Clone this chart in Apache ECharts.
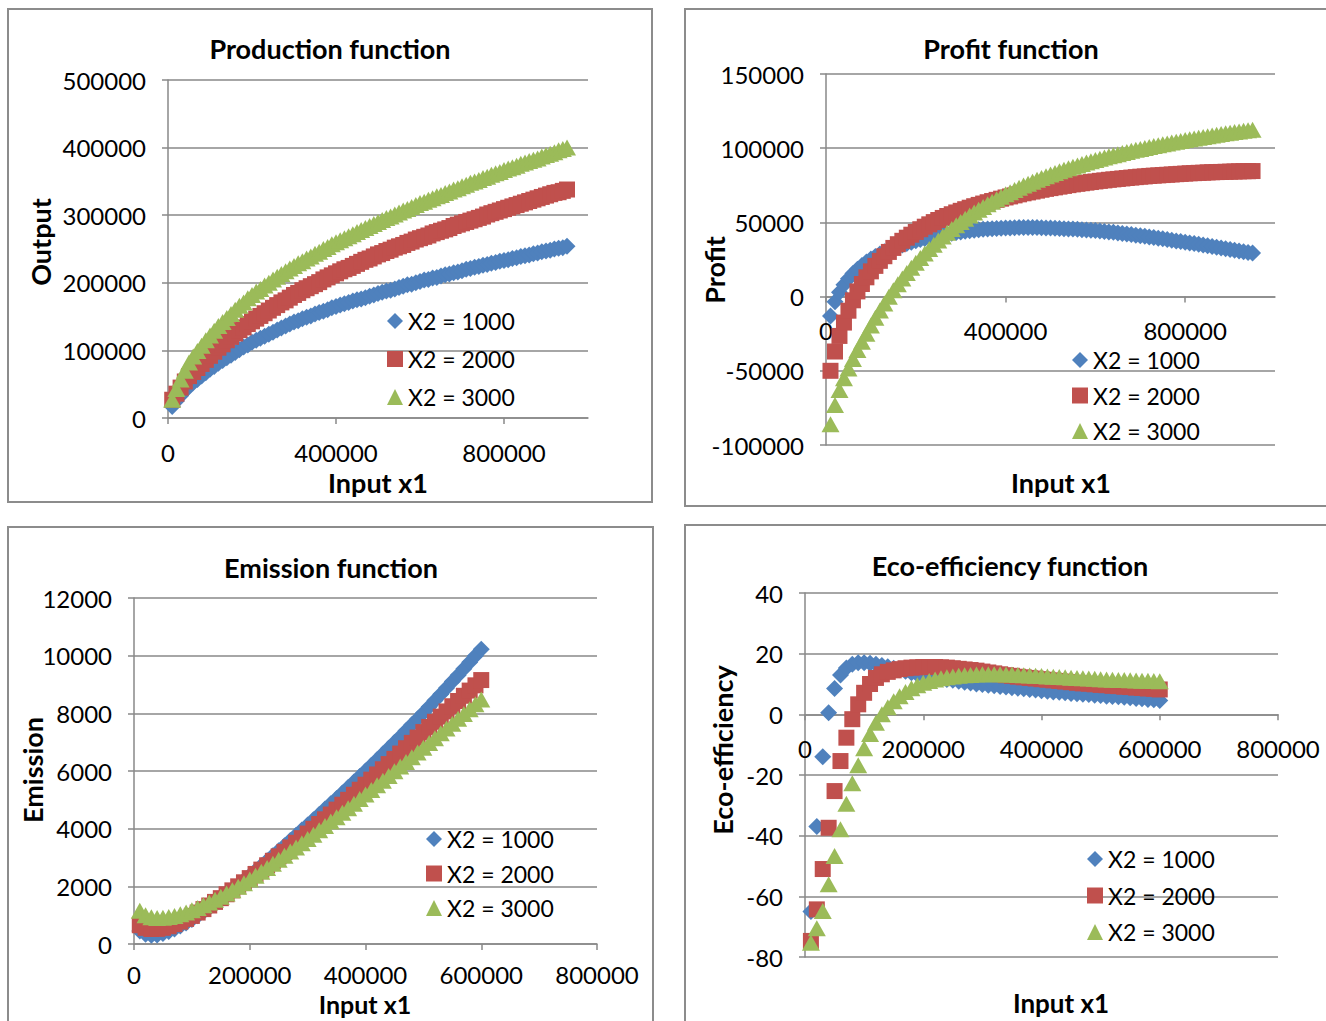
<!DOCTYPE html>
<html><head><meta charset="utf-8">
<script src="https://cdn.jsdelivr.net/npm/echarts@6/dist/echarts.min.js"></script>
<style>html,body{margin:0;padding:0;background:#fff;}#c{width:1326px;height:1021px;}</style>
</head><body><div id="c"></div>
<script>
const seriesNames = ['X2 = 1000', 'X2 = 2000', 'X2 = 3000'];
const chartTitles = ['Production function', 'Profit function', 'Emission function', 'Eco-efficiency function'];
const yAxisNames = ['Output', 'Profit', 'Emission', 'Eco-efficiency'];
const xAxisName = 'Input x1';
const topXTicks = [0, 400000, 800000];

const xTop = [10000,20000,30000,40000,50000,60000,70000,80000,90000,100000,
110000,120000,130000,140000,150000,160000,170000,180000,190000,200000,
210000,220000,230000,240000,250000,260000,270000,280000,290000,300000,
310000,320000,330000,340000,350000,360000,370000,380000,390000,400000,
410000,420000,430000,440000,450000,460000,470000,480000,490000,500000,
510000,520000,530000,540000,550000,560000,570000,580000,590000,600000,
610000,620000,630000,640000,650000,660000,670000,680000,690000,700000,
710000,720000,730000,740000,750000,760000,770000,780000,790000,800000,
810000,820000,830000,840000,850000,860000,870000,880000,890000,900000,
910000,920000,930000,940000,950000];

const xBottom = [10000,20000,30000,40000,50000,60000,70000,80000,90000,100000,
110000,120000,130000,140000,150000,160000,170000,180000,190000,200000,
210000,220000,230000,240000,250000,260000,270000,280000,290000,300000,
310000,320000,330000,340000,350000,360000,370000,380000,390000,400000,
410000,420000,430000,440000,450000,460000,470000,480000,490000,500000,
510000,520000,530000,540000,550000,560000,570000,580000,590000,600000];

const prodBlue = [17000,25000,33000,40000,47000,52000,57000,62000,67000,72000,
76000,81000,85000,89000,93000,97000,101000,105000,108000,112000,
115000,118000,121000,124000,127000,130000,133000,136000,139000,142000,
144000,147000,149000,151000,154000,156000,158000,160000,163000,165000,
167000,169000,171000,173000,175000,176000,178000,180000,182000,184000,
186000,188000,189000,191000,193000,195000,197000,198000,200000,202000,
204000,205000,207000,208000,210000,212000,213000,215000,216000,218000,
220000,221000,223000,224000,226000,227000,229000,230000,232000,233000,
234000,236000,237000,239000,240000,241000,243000,244000,246000,247000,
248000,250000,251000,252000,254000];
const prodRed = [27000,36000,45000,54000,62000,68000,74000,80000,86000,92000,
98000,104000,109000,115000,120000,125000,130000,134000,139000,143000,
147000,151000,155000,159000,163000,167000,171000,174000,178000,182000,
185000,189000,192000,195000,198000,201000,205000,208000,211000,214000,
217000,220000,222000,225000,228000,231000,234000,236000,239000,242000,
244000,247000,249000,252000,254000,256000,259000,261000,264000,266000,
268000,270000,273000,275000,277000,279000,281000,284000,286000,288000,
290000,292000,294000,296000,298000,301000,303000,305000,307000,309000,
311000,313000,315000,317000,319000,321000,323000,325000,327000,329000,
331000,333000,334000,336000,338000];
const prodGreen = [27000,43000,57000,70000,82000,91000,99000,107000,115000,122000,
129000,136000,142000,148000,154000,160000,166000,171000,177000,182000,
187000,191000,196000,200000,205000,209000,213000,217000,221000,225000,
229000,232000,236000,239000,243000,246000,250000,253000,257000,260000,
263000,266000,269000,272000,275000,278000,281000,284000,287000,290000,
293000,296000,298000,301000,304000,307000,309000,312000,315000,318000,
320000,323000,325000,328000,330000,333000,335000,338000,340000,343000,
345000,348000,350000,352000,355000,357000,360000,362000,364000,367000,
369000,371000,373000,376000,378000,380000,382000,384000,387000,389000,
391000,393000,396000,398000,400000];

const profitBlue = [-13000,-3500,3000,8000,12000,15500,18500,21000,23300,25300,
27100,28700,30200,31500,32700,33800,34800,35800,36700,37600,
38400,39100,39800,40500,41100,41700,42200,42700,43200,43600,
44000,44400,44700,45000,45300,45500,45700,45900,46100,46200,
46300,46400,46500,46500,46500,46500,46500,46400,46300,46200,
46100,45900,45800,45600,45500,45300,45100,44900,44700,44500,
44200,43900,43600,43300,42900,42500,42100,41800,41400,41000,
40600,40200,39800,39300,38900,38400,38000,37500,37100,36600,
36100,35700,35200,34800,34300,33800,33300,32800,32300,31800,
31300,30800,30300,29800,29300];
const profitRed = [-50000,-37000,-26500,-17500,-9500,-2500,3500,8500,13000,17000,
20700,24100,27200,30100,32800,35300,37600,39700,41700,43600,
45400,47100,48700,50200,51600,53000,54300,55500,56700,57800,
58900,59900,60900,61800,62700,63600,64400,65200,66000,66800,
67500,68200,68900,69600,70200,70800,71400,72000,72600,73100,
73600,74100,74600,75100,75600,76000,76400,76800,77200,77600,
78000,78300,78700,79000,79300,79600,79900,80200,80500,80800,
81000,81300,81500,81700,81900,82100,82300,82500,82700,82900,
83100,83200,83400,83500,83700,83800,83900,84000,84100,84200,
84300,84400,84500,84500,84600];
const profitGreen = [-86000,-73000,-63000,-55000,-48500,-42000,-36000,-30500,-25000,-19500,
-14300,-9300,-4600,-100,4200,8300,12200,15900,19400,22800,
26000,29100,32100,35000,37800,40500,43100,45600,48000,50300,
52500,54600,56600,58500,60400,62200,63900,65600,67300,68900,
70400,71900,73400,74800,76100,77400,78700,79900,81100,82200,
83300,84400,85400,86500,87500,88400,89400,90300,91200,92000,
92900,93700,94500,95300,96000,96800,97500,98200,98900,99500,
100200,100800,101400,102000,102600,103200,103800,104400,104900,105500,
106000,106500,107100,107600,108100,108600,109000,109500,110000,110400,
110900,111300,111700,112100,112500];

const emisBlue = [450,340,300,310,360,430,520,620,730,850,
980,1115,1255,1400,1550,1705,1865,2030,2200,2370,
2540,2710,2885,3060,3235,3410,3590,3770,3950,4130,
4310,4495,4680,4865,5050,5240,5430,5620,5810,6000,
6195,6390,6590,6790,6990,7190,7395,7600,7805,8010,
8225,8442,8660,8880,9100,9322,9545,9770,9995,10222];
const emisRed = [650,560,520,525,560,615,690,775,870,975,
1090,1210,1335,1460,1590,1725,1860,2000,2140,2285,
2430,2580,2730,2885,3040,3195,3350,3510,3670,3830,
3995,4160,4325,4490,4660,4830,5000,5175,5350,5525,
5700,5880,6060,6240,6420,6605,6790,6975,7160,7350,
7528,7707,7886,8066,8246,8427,8608,8789,8971,9154];
const emisGreen = [1150,1000,930,905,910,935,975,1030,1095,1170,
1250,1340,1435,1535,1640,1750,1865,1985,2110,2240,
2370,2505,2640,2780,2920,3060,3205,3350,3495,3640,
3790,3941,4093,4246,4400,4555,4711,4868,5026,5185,
5345,5505,5666,5828,5990,6153,6316,6480,6644,6809,
6974,7140,7306,7473,7640,7808,7976,8145,8314,8483];

const ecoBlue = [-65,-37,-14,0.5,8.5,13,15.3,16.5,17,17,
16.8,16.5,16.1,15.7,15.2,14.7,14.2,13.7,13.2,12.7,
12.4,12.1,11.8,11.5,11.2,10.9,10.6,10.3,10.0,9.8,
9.6,9.4,9.2,9.0,8.8,8.6,8.4,8.2,8.0,7.8,
7.6,7.4,7.3,7.1,6.9,6.8,6.6,6.5,6.3,6.2,
6.0,5.9,5.8,5.6,5.5,5.2,5.1,4.9,4.8,4.6];
const ecoRed = [-74.7,-64.3,-51,-37.4,-25.3,-15.4,-7.7,-1.6,3.3,7.1,
10,12,13.2,14,14.5,14.9,15.2,15.4,15.5,15.6,
15.6,15.6,15.5,15.4,15.2,15.0,14.8,14.6,14.4,14.1,
13.8,13.5,13.2,12.9,12.7,12.4,12.2,12.0,11.8,11.6,
11.4,11.2,11.0,10.8,10.6,10.4,10.2,10.1,9.9,9.7,
9.6,9.4,9.3,9.1,9.0,8.8,8.7,8.5,8.4,8.2];
const ecoGreen = [-75.3,-70.5,-64.8,-56,-46.7,-37.9,-29.5,-22.7,-16.8,-11.2,
-6.5,-2.8,0,2.3,4.3,6,7.4,8.6,9.6,10.4,
11,11.5,11.9,12.2,12.5,12.7,12.9,13,13.1,13.2,
13.2,13.2,13.2,13.1,13.1,13.0,12.9,12.8,12.7,12.6,
12.5,12.4,12.3,12.2,12.1,12.0,11.9,11.8,11.7,11.6,
11.5,11.4,11.35,11.3,11.2,11.15,11.1,11.05,11.0,10.9];

const FONT = 'Lato';
const COLORS = ['#4F81BD', '#C0504D', '#9BBB59'];
const SYMBOLS = ['diamond', 'rect', 'triangle'];
const SIZES = [[17, 17], [16, 16], [18, 16]];
const GRAY = '#898989';

const grids = [
  {left: 168, top: 80, width: 420, height: 338},
  {left: 826, top: 74, width: 449, height: 371},
  {left: 134, top: 598, width: 463, height: 346},
  {left: 805, top: 593, width: 473, height: 364}
];

const plain = v => String(v);

function xAxisCfg(gi, max, interval, custom, offset, margin) {
  const a = {
    type: 'value', gridIndex: gi, min: 0, max: max, interval: interval,
    position: 'bottom', offset: offset || 0,
    axisLine: {show: true, onZero: false, lineStyle: {color: GRAY, width: 1.5}},
    axisTick: {show: true, inside: false, length: 6, lineStyle: {color: GRAY, width: 1.5}},
    axisLabel: {margin: margin || 22, color: '#000', fontSize: 24, fontFamily: FONT, formatter: plain},
    splitLine: {show: false}
  };
  if (custom) { a.axisTick.customValues = custom; a.axisLabel.customValues = custom; }
  return a;
}
function yAxisCfg(gi, min, max, interval) {
  return {
    type: 'value', gridIndex: gi, min: min, max: max, interval: interval,
    axisLine: {show: true, onZero: false, lineStyle: {color: GRAY, width: 1.5}},
    axisTick: {show: true, inside: false, length: 6, lineStyle: {color: GRAY, width: 1.5}},
    axisLabel: {margin: 22, color: '#000', fontSize: 24, fontFamily: FONT, formatter: plain},
    splitLine: {show: true, lineStyle: {color: GRAY, width: 1.5}}
  };
}

// offsets place the x axis line at y = 0 for the profit and eco-efficiency panels
const xAxes = [
  xAxisCfg(0, 1000000, 400000, topXTicks, 0, 22),
  xAxisCfg(1, 1000000, 400000, topXTicks, -371 * 100000 / 250000, 22),
  xAxisCfg(2, 800000, 200000, null, 0, 18),
  xAxisCfg(3, 800000, 200000, null, -364 * 80 / 120, 22)
];
const yAxes = [
  yAxisCfg(0, 0, 500000, 100000),
  yAxisCfg(1, -100000, 150000, 50000),
  yAxisCfg(2, 0, 12000, 2000),
  yAxisCfg(3, -80, 40, 20)
];

const chartData = [
  [xTop, [prodBlue, prodRed, prodGreen]],
  [xTop, [profitBlue, profitRed, profitGreen]],
  [xBottom, [emisBlue, emisRed, emisGreen]],
  [xBottom, [ecoBlue, ecoRed, ecoGreen]]
];

const series = [];
chartData.forEach(([xs, ysList], gi) => {
  ysList.forEach((ys, si) => {
    series.push({
      type: 'scatter', name: seriesNames[si], xAxisIndex: gi, yAxisIndex: gi,
      symbol: SYMBOLS[si], symbolSize: SIZES[si],
      itemStyle: {color: COLORS[si], opacity: 1},
      emphasis: {disabled: true}, clip: false,
      data: xs.map((x, i) => [x, ys[i]])
    });
  });
});

const legendPos = [
  {left: 387, top: 309, gap: 14},
  {left: 1072, top: 348, gap: 11.5},
  {left: 426, top: 827, gap: 10.5},
  {left: 1087, top: 847, gap: 12.5}
];
const legends = legendPos.map(p => ({
  orient: 'vertical', left: p.left, top: p.top, itemGap: p.gap, padding: 0,
  itemWidth: 16, itemHeight: 16, selectedMode: false,
  textStyle: {fontSize: 23, fontFamily: FONT, color: '#000', lineHeight: 24, padding: [0, 0, 0, 0]},
  data: seriesNames.map((n, i) => ({name: n, icon: SYMBOLS[i]}))
}));

function txt(t, x, y, size, bold, rot) {
  return {type: 'text', x: x, y: y, rotation: rot || 0, silent: true, z: 10,
    style: {text: t, font: (bold ? 'bold ' : '') + size + 'px ' + FONT, fill: '#000',
      textAlign: 'center', textVerticalAlign: 'middle'}};
}
function box(x, y, w, h) {
  return {type: 'rect', silent: true, z: 0, shape: {x: x, y: y, width: w, height: h},
    style: {fill: 'none', stroke: '#8c8c8c', lineWidth: 2}};
}

const graphics = [
  box(8, 9, 644, 493), box(685, 9, 660, 497), box(8, 527, 645, 520), box(685, 525, 660, 520),
  txt(chartTitles[0], 330, 48, 27, true), txt(chartTitles[1], 1011, 48, 27, true),
  txt(chartTitles[2], 331, 567, 27, true), txt(chartTitles[3], 1010, 565, 27, true),
  txt(xAxisName, 378, 482, 27, true), txt(xAxisName, 1061, 482, 27, true),
  txt(xAxisName, 365, 1004, 25, true), txt(xAxisName, 1061, 1003, 26, true),
  txt(yAxisNames[0], 40, 242, 27, true, Math.PI / 2), txt(yAxisNames[1], 714, 270, 27, true, Math.PI / 2),
  txt(yAxisNames[2], 32, 770, 27, true, Math.PI / 2), txt(yAxisNames[3], 722, 750, 27, true, Math.PI / 2)
];

const chart = echarts.init(document.getElementById('c'), null, {renderer: 'svg', width: 1326, height: 1021});
chart.setOption({
  animation: false,
  backgroundColor: '#fff',
  grid: grids,
  xAxis: xAxes,
  yAxis: yAxes,
  legend: legends,
  series: series,
  graphic: graphics
});
</script></body></html>
